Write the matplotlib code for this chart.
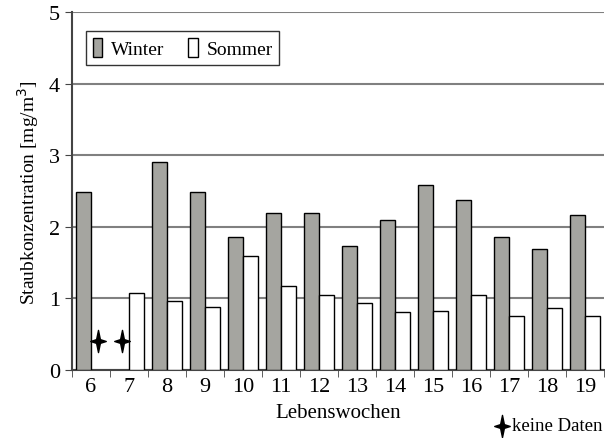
import numpy as np
import matplotlib
matplotlib.use("Agg")
import matplotlib.pyplot as plt
from matplotlib.path import Path
from matplotlib.patches import Patch

plt.rcParams['font.family'] = ['Liberation Serif', 'DejaVu Serif']

# data (np.nan = keine Daten)
weeks = ["6", "7", "8", "9", "10", "11", "12", "13", "14", "15", "16", "17", "18", "19"]
winter = [2.48, np.nan, 2.90, 2.48, 1.86, 2.19, 2.19, 1.73, 2.10, 2.59, 2.37, 1.86, 1.69, 2.17]
sommer = [np.nan, 1.07, 0.97, 0.88, 1.59, 1.17, 1.05, 0.93, 0.81, 0.83, 1.05, 0.76, 0.86, 0.76]
no_data_level = 0.4

# 4-pointed star marker
star = Path([(0, 1), (0.17, 0.17), (0.7, 0), (0.17, -0.17), (0, -1),
             (-0.17, -0.17), (-0.7, 0), (-0.17, 0.17), (0, 1)],
            [Path.MOVETO] + [Path.LINETO] * 7 + [Path.CLOSEPOLY])

fig = plt.figure(figsize=(6.05, 4.39), dpi=100)
ax = fig.add_axes([0.119, 0.155, 0.879, 0.815])

x = np.arange(len(weeks))
w = 0.39
ax.bar(x - w / 2, winter, w, color='#a5a5a0', edgecolor='black', linewidth=1, zorder=3)
ax.bar(x + w / 2, sommer, w, color='white', edgecolor='black', linewidth=1, zorder=3)

# stars where data are missing
for i in range(len(weeks)):
    if np.isnan(winter[i]):
        ax.plot(x[i] - w / 2, no_data_level, marker=star, ms=16, color='black', zorder=4)
    if np.isnan(sommer[i]):
        ax.plot(x[i] + w / 2, no_data_level, marker=star, ms=16, color='black', zorder=4)

ax.set_xlim(-0.5, len(weeks) - 0.5)
ax.set_ylim(0, 5)
ax.set_yticks(range(6))
ax.set_xticks(x)
ax.set_xticklabels(weeks)
ax.set_xticks(np.arange(-0.5, len(weeks)), minor=True)
ax.tick_params(axis='x', which='major', length=0, labelsize=16, pad=5)
ax.tick_params(axis='x', which='minor', length=5, direction='out', color='#444444')
ax.tick_params(axis='y', length=5, labelsize=16, color='#444444')
ax.yaxis.grid(True, color='#808080', linewidth=1.5, zorder=0)
ax.set_axisbelow(True)
for s in ['top', 'right']:
    ax.spines[s].set_visible(False)
ax.spines['left'].set_color('#444444')
ax.spines['left'].set_linewidth(1.5)
ax.spines['bottom'].set_color('#444444')
ax.spines['bottom'].set_linewidth(1.5)

ax.set_ylabel('Staubkonzentration [mg/m$^3$]', fontsize=14, labelpad=6)
ax.set_xlabel('Lebenswochen', fontsize=15, labelpad=5)

handles = [Patch(facecolor='#a5a5a0', edgecolor='black', label='Winter'),
           Patch(facecolor='white', edgecolor='black', label='Sommer')]
leg = ax.legend(handles=handles, loc='upper left', bbox_to_anchor=(0.026, 0.947),
                borderaxespad=0, ncol=2, fontsize=14, frameon=True, fancybox=False,
                handlelength=0.5, handleheight=1.1, handletextpad=0.45,
                columnspacing=1.2, borderpad=0.35)
leg.get_frame().set_edgecolor('black')
leg.get_frame().set_linewidth(1)

# "keine Daten" note
fig.lines.append(plt.Line2D([502 / 605], [1 - 427 / 439], marker=star, ms=16,
                            color='black', linestyle='none', transform=fig.transFigure))
fig.text(512 / 605, 1 - 427 / 439, 'keine Daten', fontsize=13.5, va='center', ha='left')

fig.savefig('out.png', dpi=100)
